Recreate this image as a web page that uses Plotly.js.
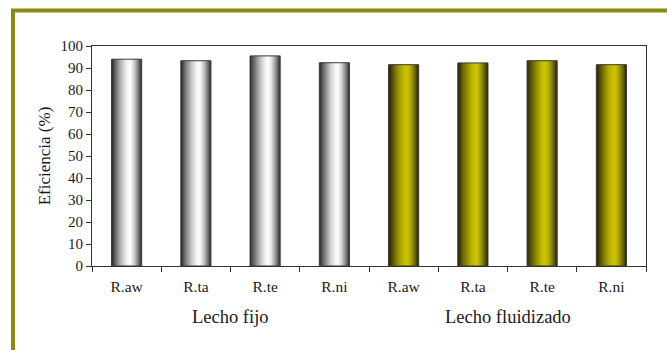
<!DOCTYPE html>
<html>
<head>
<meta charset="utf-8">
<script src="https://cdn.plot.ly/plotly-3.0.1.min.js"></script>
<style>
  html, body { margin: 0; padding: 0; background: #ffffff; }
  #chart { width: 667px; height: 350px; }
</style>
</head>
<body>
<div id="chart"></div>
<script>
// Removal efficiency per reactor, fixed bed vs fluidized bed
const reactors = ['R.aw', 'R.ta', 'R.te', 'R.ni'];
const groupNames = ['Lecho fijo', 'Lecho fluidizado'];
const fixedBed = [94, 93.3, 95.5, 92.4];
const fluidBed = [91.5, 92.3, 93.3, 91.5];
const yTicks = [0, 10, 20, 30, 40, 50, 60, 70, 80, 90, 100];

// Bars sit at consecutive slots: group g, reactor r -> g * reactors.length + r
const slots = (g) => reactors.map((_, r) => g * reactors.length + r);
const allSlots = slots(0).concat(slots(1));
const allLabels = reactors.concat(reactors);

// Cylinder-style shading: each bar is built from thin vertical strips
const BAR_W = 0.435;
const STRIPS = 28;
const PEAK = 0.6;

function shade(edge, peak, t) {
  const d = t < PEAK ? (PEAK - t) / PEAK : (t - PEAK) / (1 - PEAK);
  const f = Math.max(0, 1 - Math.pow(d, 1.5));
  const c = edge.map((e, k) => Math.round(e + (peak[k] - e) * f));
  return 'rgb(' + c.join(',') + ')';
}

function stripTraces(g, values, edge, peak) {
  const x = slots(g);
  const traces = [];
  const sw = BAR_W / STRIPS;
  for (let i = 0; i < STRIPS; i++) {
    const t = (i + 0.5) / STRIPS;
    const w = i === STRIPS - 1 ? sw : sw * 1.6;
    traces.push({
      type: 'bar',
      x: x,
      y: values,
      width: w,
      offset: -BAR_W / 2 + i * sw,
      marker: { color: shade(edge, peak, t), line: { width: 0 } },
      hoverinfo: 'skip',
      showlegend: false
    });
  }
  // thin outline around each bar
  traces.push({
    type: 'bar',
    x: x,
    y: values,
    width: BAR_W,
    offset: -BAR_W / 2,
    marker: { color: 'rgba(0,0,0,0)', line: { width: 1, color: '#3a3a3a' } },
    hoverinfo: 'skip',
    showlegend: false
  });
  return traces;
}

const data = []
  .concat(stripTraces(0, fixedBed, [40, 38, 36], [252, 252, 252]))
  .concat(stripTraces(1, fluidBed, [34, 30, 6], [204, 196, 0]));

const serif = '"Liberation Serif", "Times New Roman", serif';
const ink = '#1a1a1a';

// Group captions centred under their four reactors
const groupAnnotations = groupNames.map((name, g) => {
  const s = slots(g);
  return {
    text: name,
    x: (s[0] + s[s.length - 1]) / 2,
    xref: 'x',
    y: -0.232,
    yref: 'paper',
    xanchor: 'center',
    yanchor: 'middle',
    showarrow: false,
    font: { family: serif, size: 18.5, color: ink }
  };
});

const layout = {
  width: 667,
  height: 350,
  paper_bgcolor: '#ffffff',
  plot_bgcolor: '#ffffff',
  barmode: 'overlay',
  margin: { l: 92, r: 21, t: 46, b: 84 },
  font: { family: serif, size: 15, color: ink },
  xaxis: {
    range: [-0.5, allSlots.length - 0.5],
    tickvals: allSlots,
    ticktext: allLabels,
    ticks: 'outside',
    ticklen: 6,
    tickcolor: 'rgba(0,0,0,0)',
    minor: { ticks: 'outside', ticklen: 5, tickcolor: '#333', tick0: -0.5, dtick: 1, showgrid: false },
    showline: true,
    linecolor: '#333',
    linewidth: 1,
    mirror: true,
    showgrid: false,
    zeroline: false,
    tickfont: { family: serif, size: 15.5, color: ink }
  },
  yaxis: {
    range: [0, 100],
    tickvals: yTicks,
    ticks: 'outside',
    ticklen: 5,
    tickcolor: '#333',
    showline: true,
    linecolor: '#333',
    linewidth: 1,
    mirror: true,
    showgrid: false,
    zeroline: false,
    automargin: false,
    tickfont: { family: serif, size: 15, color: ink },
    title: { text: 'Eficiencia (%)', font: { family: serif, size: 17, color: ink }, standoff: 5 }
  },
  annotations: groupAnnotations,
  shapes: [{
    type: 'rect',
    xref: 'paper', yref: 'paper',
    x0: -0.1426, x1: 1.3,
    y0: -1, y1: 1.1614,
    line: { color: '#8a8a10', width: 4 },
    layer: 'below'
  }]
};

Plotly.newPlot('chart', data, layout, { staticPlot: true, displayModeBar: false });
</script>
</body>
</html>
